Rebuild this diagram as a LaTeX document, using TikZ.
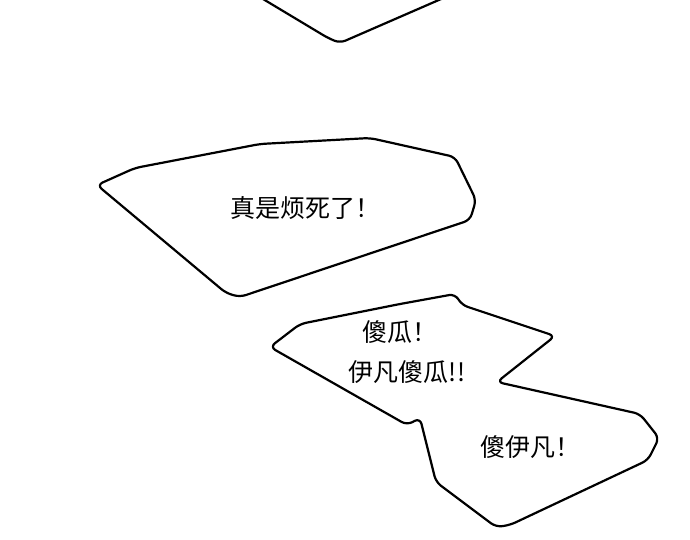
\documentclass[tikz,border=0pt]{standalone}
\usepackage{fontspec}
\newfontfamily\cjk{Noto Sans CJK SC}
\begin{document}
\begin{tikzpicture}[x=1pt,y=-1pt,
  bub/.style={draw=black,line width=2.2pt,fill=white,rounded corners=6pt,line join=round},
  txt/.style={font=\cjk\fontsize{25}{30}\selectfont,align=center}]
\useasboundingbox (0,0) rectangle (690,539);
\draw[bub] (258,-4) -- (328,38) -- (340,43) -- (448,-4);
\draw[bub] (97,185) -- (135,168) -- (260,144) -- (370,138) -- (455,157) -- (476,200) -- (470,220) -- (240,297) -- (226,293) -- cycle;
\draw[bub] (270,347) -- (300,324) -- (400,304) -- (455,294) -- (462,305) -- (555,336) -- (497,382) -- (640,414) -- (659,438) -- (648,460) -- (510,525) -- (496,527) -- (436,482) -- (420,418) -- (407,425) -- cycle;
\node[txt] (a) at (305,208) {真是烦死了！};
\node[txt] (b) at (400,332) {傻瓜！};
\node[txt] (c) at (407,372) {伊凡傻瓜!!};
\node[txt] (d) at (530,447) {傻伊凡！};
\end{tikzpicture}
\end{document}
